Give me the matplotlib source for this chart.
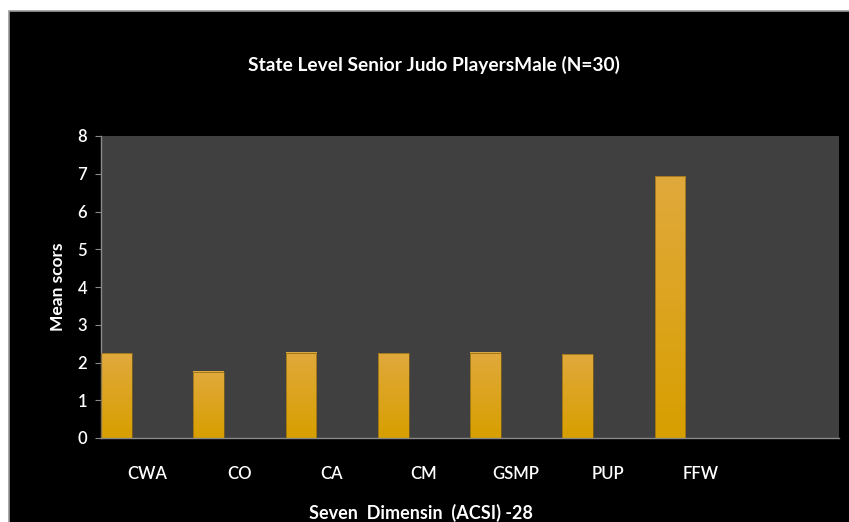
import numpy as np
import matplotlib
matplotlib.use("Agg")
import matplotlib.pyplot as plt
from matplotlib.patches import Rectangle

categories = ["CWA", "CO", "CA", "CM", "GSMP", "PUP", "FFW"]
mean_scores = [2.25, 1.75, 2.26, 2.24, 2.26, 2.22, 6.94]
y_ticks = [0, 1, 2, 3, 4, 5, 6, 7, 8]

plt.rcParams['font.family'] = ['Lato', 'DejaVu Sans']

fig = plt.figure(figsize=(8.49, 5.22), dpi=100, facecolor='white')
# black chart frame with white margin on top/left
fig.patches.append(Rectangle((9 / 849, -0.01), 1, 1.01 - 11 / 522, transform=fig.transFigure,
                             facecolor='black', edgecolor='#9a9a9a', linewidth=1.2, zorder=-5))

ax = fig.add_axes([101 / 849, (522 - 438) / 522, 738 / 849, 302 / 522])
ax.set_facecolor('#404040')

n_slots = len(categories) + 1
bar_w = 0.335
grad = np.linspace(0, 1, 100).reshape(-1, 1)
cmap = matplotlib.colors.LinearSegmentedColormap.from_list('gold', ['#d89f00', '#e0a93c'])
for i, v in enumerate(mean_scores):
    left = i - 0.5
    ax.imshow(grad, extent=(left, left + bar_w, 0, v), origin='lower', aspect='auto',
              cmap=cmap, zorder=2)
    ax.add_patch(Rectangle((left, 0), bar_w, v, facecolor='none', edgecolor='#8a6515',
                           linewidth=0.5, zorder=3))
ax.set_aspect('auto')
ax.set_xlim(-0.5, n_slots - 0.5)
ax.set_ylim(0, 8)

ax.set_xticks(range(len(categories)))
ax.set_xticklabels(categories, fontweight='semibold')
ax.set_yticks(y_ticks)
ax.set_yticklabels([str(t) for t in y_ticks], fontweight='semibold')
ax.tick_params(axis='x', length=0, colors='white', labelsize=12, pad=20)
ax.tick_params(axis='y', length=4, color='#8a8a8a', colors='white', labelsize=12, pad=6)
for lab in ax.get_yticklabels():
    lab.set_color('white')

for s in ['top', 'right']:
    ax.spines[s].set_visible(False)
for s in ['left', 'bottom']:
    ax.spines[s].set_color('#8a8a8a')
    ax.spines[s].set_linewidth(1.0)

ax.set_ylabel('Mean scors', color='white', fontsize=12.5, fontweight='bold', labelpad=8)
fig.text(434 / 849, 1 - 65 / 522, 'State Level Senior Judo PlayersMale (N=30)',
         color='white', fontsize=13.8, fontweight='bold', ha='center', va='center')
fig.text(421 / 849, 1 - 513 / 522, 'Seven  Dimensin  (ACSI) -28',
         color='white', fontsize=13, fontweight='bold', ha='center', va='center')

fig.savefig('out.png', dpi=100, facecolor=fig.get_facecolor())
